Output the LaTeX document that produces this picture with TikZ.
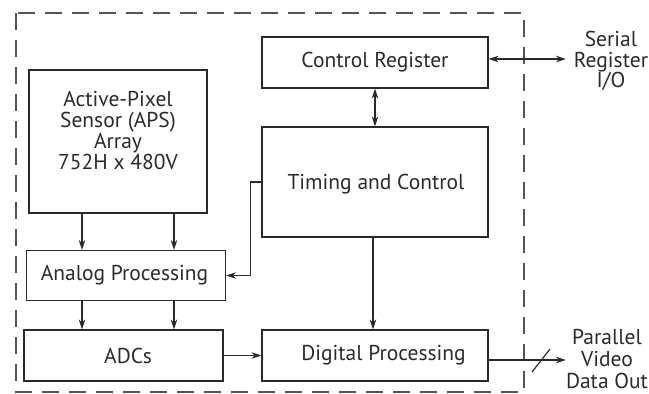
\documentclass[tikz,border=0pt]{standalone}
\usepackage{fontspec}
\setmainfont{PT Sans}
\usetikzlibrary{arrows.meta,calc}
\definecolor{ink}{HTML}{2A2A2A}
\tikzset{
  blk/.style={draw=ink, line width=1.2pt, inner sep=0pt, anchor=center},
  lbl/.style={text=ink, align=center, inner sep=0pt, font=\fontsize{21.5}{20.7}\selectfont},
  arr/.style={draw=ink, line width=1.2pt, -{Stealth[length=10pt,width=6.5pt]}},
  darr/.style={draw=ink, line width=1.2pt, {Stealth[length=10pt,width=6.5pt]}-{Stealth[length=10pt,width=6.5pt]}},
  wire/.style={draw=ink, line width=1.2pt},
}
\begin{document}
\begin{tikzpicture}[x=1pt,y=-1pt]
\useasboundingbox (0,0) rectangle (649,394);
% chip outline
\draw[draw=ink!80, line width=1.1pt, dash pattern=on 17pt off 10pt] (16,13) rectangle (524,392);

% blocks
\node[blk, minimum width=226pt, minimum height=51pt] (ctrl) at (375,62.5) {};
\node[lbl] (ctrltext) at (375,62.5) {Control Register};
\node[blk, minimum width=178pt, minimum height=143pt] (aps) at (118,141.5) {};
\node[lbl] (apstext) at (118,130.5) {Active-Pixel\\Sensor (APS)\\Array\\752H x 480V};
\node[blk, minimum width=226pt, minimum height=110pt] (timing) at (375,182) {};
\node[lbl] (timingtext) at (376,184) {Timing and Control};
\node[blk, minimum width=199pt, minimum height=50pt] (analog) at (126,275.5) {};
\node[lbl] (analogtext) at (124.5,275.5) {Analog Processing};
\node[blk, minimum width=199pt, minimum height=51pt] (adc) at (123.5,355.5) {};
\node[lbl] (adctext) at (128,355.5) {ADCs};
\node[blk, minimum width=226pt, minimum height=51pt] (dig) at (375,355.5) {};
\node[lbl] (digtext) at (383.5,355.5) {Digital Processing};

% external labels
\node[lbl] (serial) at (611,61) {Serial\\Register\\I/O};
\node[lbl, font=\fontsize{21.5}{22}\selectfont] (parallel) at (607,359) {Parallel\\Video\\Data Out};

% connector guides
\coordinate (xa) at (82,0);
\coordinate (xb) at (174,0);
\coordinate (sout) at (566,59);
\coordinate (pout) at (566,360);
\coordinate (sl1) at (532,372);
\coordinate (sl2) at (550,349);

% connectors
\draw[arr] (aps.south -| xa) -- (analog.north -| xa);
\draw[arr] (aps.south -| xb) -- (analog.north -| xb);
\draw[arr] (analog.south -| xa) -- (adc.north -| xa);
\draw[arr] (analog.south -| xb) -- (adc.north -| xb);
\draw[arr] (timing.west) -- ++(-11,0) |- (analog.east);
\draw[darr] (ctrl.south) -- (timing.north);
\draw[arr] (timing.south -| 373,0) -- (dig.north -| 373,0);
\draw[arr] (adc.east) -- (dig.west);
\draw[darr] (ctrl.east |- sout) -- (sout);
\draw[arr] (dig.east |- pout) -- (pout);
\draw[wire] (sl1) -- (sl2);
\end{tikzpicture}
\end{document}
